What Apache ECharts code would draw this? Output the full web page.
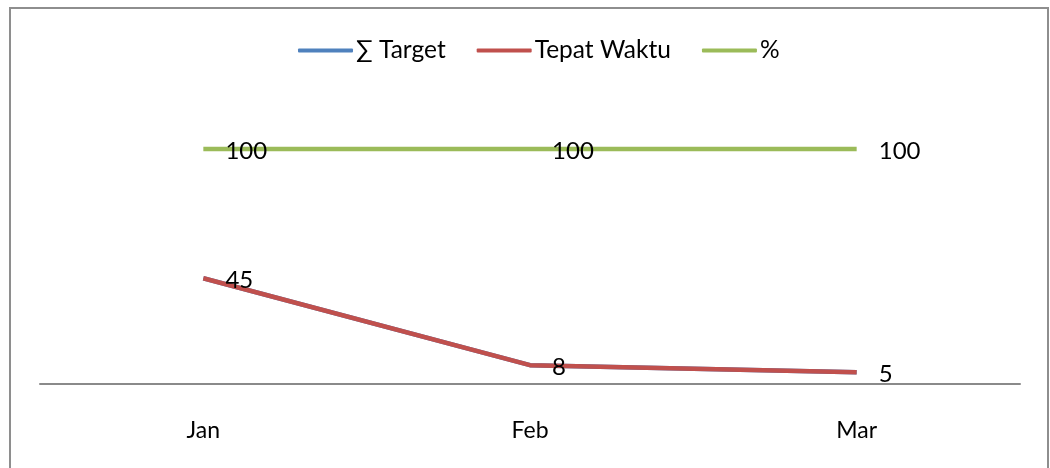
<!DOCTYPE html>
<html>
<head>
<meta charset="utf-8">
<script src="https://cdn.jsdelivr.net/npm/echarts@6/dist/echarts.min.js"></script>
<style>
  html, body { margin: 0; padding: 0; background: #fff; }
  #chart { width: 1050px; height: 468px; }
</style>
</head>
<body>
<div id="chart"></div>
<script>
const months = ['Jan', 'Feb', 'Mar'];
const targetValues = [45, 8, 5];
const tepatWaktuValues = [45, 8, 5];
const percentValues = [100, 100, 100];

const FONT = 'Lato';

const chart = echarts.init(document.getElementById('chart'));

const valueLabel = {
    show: true,
    position: 'right',
    distance: 22,
    offset: [0, 2],
    color: '#000',
    fontFamily: FONT,
    fontSize: 24
};

chart.setOption({
    animation: false,
    textStyle: { fontFamily: FONT },
    graphic: [{
        type: 'rect',
        shape: { x: 10, y: 8, width: 1038, height: 500 },
        style: { fill: 'none', stroke: '#8e8e8e', lineWidth: 2 },
        silent: true
    }],
    legend: {
        top: 33,
        left: 293,
        icon: 'roundRect',
        itemWidth: 55,
        itemHeight: 4,
        itemGap: 31,
        textStyle: { color: '#000', fontFamily: FONT, fontSize: 24.5, padding: [0, 0, 0, -2] },
        data: ['∑ Target', 'Tepat Waktu', '%']
    },
    grid: { left: 40, right: 30, top: 102, bottom: 84 },
    xAxis: {
        type: 'category',
        data: months,
        boundaryGap: true,
        axisLine: { lineStyle: { color: '#8a8a8a', width: 2 } },
        axisTick: { show: false },
        axisLabel: { color: '#000', fontFamily: FONT, fontSize: 23, margin: 35 }
    },
    yAxis: {
        type: 'value',
        min: 0,
        max: 120,
        interval: 20,
        show: false,
        splitLine: { show: false }
    },
    series: [
        {
            name: '∑ Target',
            type: 'line',
            data: targetValues,
            showSymbol: false,
            color: '#4F81BD',
            lineStyle: { width: 4.5, color: '#4F81BD' }
        },
        {
            name: 'Tepat Waktu',
            type: 'line',
            data: tepatWaktuValues,
            showSymbol: true,
            symbol: 'circle',
            symbolSize: 0.1,
            color: '#C0504D',
            lineStyle: { width: 4.5, color: '#C0504D' },
            label: valueLabel
        },
        {
            name: '%',
            type: 'line',
            data: percentValues,
            showSymbol: true,
            symbol: 'circle',
            symbolSize: 0.1,
            color: '#9BBB59',
            lineStyle: { width: 4.5, color: '#9BBB59' },
            label: valueLabel
        }
    ]
});
</script>
</body>
</html>
